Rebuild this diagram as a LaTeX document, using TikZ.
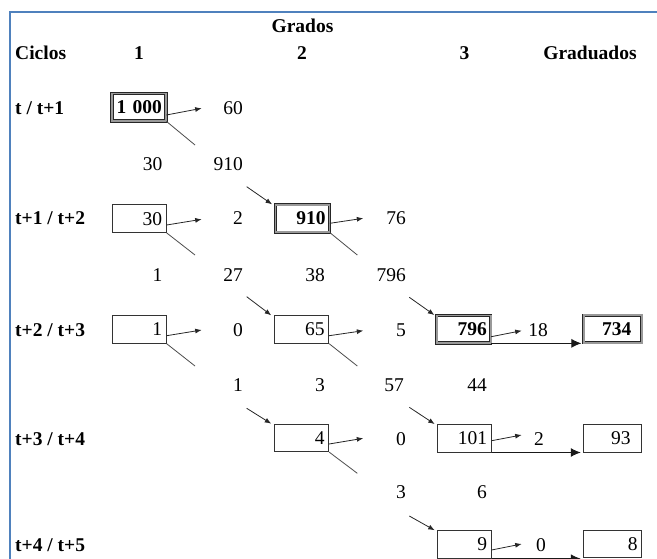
\documentclass[tikz,border=0pt]{standalone}
\usepackage{fontspec}
\setmainfont{Liberation Serif}
\usetikzlibrary{arrows.meta}
\definecolor{frameblue}{HTML}{4F81BD}
\begin{document}
\begin{tikzpicture}[x=1pt,y=-1pt,
  every node/.style={font=\fontsize{19.5}{22}\selectfont, inner sep=0pt},
  bfnode/.style={font=\fontsize{19.5}{22}\selectfont\bfseries},
  num/.style={anchor=base east},
  ctr/.style={anchor=base},
  hdr/.style={bfnode, anchor=base},
  rowlbl/.style={bfnode, anchor=base west},
  cell/.style={draw=black!80, line width=0.9pt, minimum height=27.5pt, text width=46pt, align=right, inner xsep=4pt, inner ysep=0pt},
  dcell/.style={cell, draw=black!85, line width=0.8pt, double=black!40, double distance=1.6pt, font=\fontsize{19.5}{22}\selectfont\bfseries},
  gcell/.style={text width=37pt, inner xsep=10.5pt},
  smallarrow/.style={-{Latex[length=6.5pt,width=5pt]}, line width=0.8pt, draw=black!85},
  bigarrow/.style={-{Latex[length=10pt,width=9pt]}, line width=0.9pt, draw=black!90},
  diagline/.style={line width=0.8pt, draw=black!70},
]
\useasboundingbox (0,0) rectangle (657,559);
% frame
\draw[frameblue, line width=1.5pt] (657,12) -- (10,12) -- (10,560);

% headers
\node[hdr] (grados) at (302.5,33) {Grados};
\node[bfnode, anchor=base west] (ciclos) at (15,60) {Ciclos};
\node[hdr] (g1) at (139,60) {1};
\node[hdr] (g2) at (302,60) {2};
\node[hdr] (g3) at (464.5,60) {3};
\node[hdr] (grad) at (590,60) {Graduados};

% row labels
\node[rowlbl] (r1) at (15,115) {t / t+1};
\node[rowlbl] (r2) at (15,225) {t+1 / t+2};
\node[rowlbl] (r3) at (15,336.7) {t+2 / t+3};
\node[rowlbl] (r4) at (15,445) {t+3 / t+4};
\node[rowlbl] (r5) at (15,551.7) {t+4 / t+5};

% boxes
\node[dcell] (b1000) at (139,107.2) {1~000};
\node[cell] (b30) at (139.2,218.7) {30};
\node[dcell] (b910) at (302.5,218.5) {910};
\node[cell] (b1) at (139.2,329.5) {1};
\node[cell] (b65) at (301.7,329.5) {65};
\node[dcell] (b796) at (463.8,329.2) {796};
\node[dcell, gcell] (b734) at (612.8,329) {734};
\node[cell] (b4) at (301.7,437.9) {4};
\node[cell] (b101) at (464.2,438.3) {101};
\node[cell, gcell] (b93) at (612.2,438.3) {93};
\node[cell] (b9) at (464.2,544.5) {9};
\node[cell, text width=51pt, inner xsep=3.5pt] (b8) at (612.2,543.8) {8};

% numbers
\node[num] (n60) at (243,115) {60};
\node[num] (n30) at (162.5,170.7) {30};
\node[num] (n910) at (243,170.7) {910};
\node[num] (n2a) at (243,225) {2};
\node[num] (n76) at (406,225) {76};
\node[num] (n1a) at (162.5,281.7) {1};
\node[num] (n27) at (243,281.7) {27};
\node[num] (n38) at (325,281.7) {38};
\node[num] (n796) at (406,281.7) {796};
\node[num] (n0a) at (243,336.7) {0};
\node[num] (n5) at (406,336.7) {5};
\node[ctr] (n18) at (538,336.7) {18};
\node[num] (n1b) at (243,391.7) {1};
\node[num] (n3a) at (325,391.7) {3};
\node[num] (n57) at (404,391.7) {57};
\node[num] (n44) at (487,391.7) {44};
\node[num] (n0b) at (406,445) {0};
\node[ctr] (n2b) at (539,445) {2};
\node[num] (n3b) at (406,498) {3};
\node[num] (n6) at (487,498) {6};
\node[ctr] (n0c) at (541,551.7) {0};

% free ends
\coordinate (e1) at (201.7,108.3);
\coordinate (e2) at (201.7,219.3);
\coordinate (e3) at (363.3,218.3);
\coordinate (e4) at (201.7,330);
\coordinate (e5) at (363.3,330.7);
\coordinate (e6) at (521.7,330.7);
\coordinate (e7) at (363.3,438.3);
\coordinate (e8) at (521.7,435);
\coordinate (e9) at (521.7,544);

\coordinate (d1) at (195,145);
\coordinate (d2) at (195,255);
\coordinate (d3) at (357.3,255);
\coordinate (d4) at (195,366);
\coordinate (d5) at (357.3,366);
\coordinate (d6) at (357.3,473.3);

\coordinate (s1) at (246.7,186.7);
\coordinate (s2) at (246.7,296.7);
\coordinate (s3) at (409.3,297.3);
\coordinate (s4) at (246.7,408.3);
\coordinate (s5) at (409.3,407.3);
\coordinate (s6) at (409.3,516);

% row arrows
\draw[smallarrow] ([yshift=-7.8pt]b1000.east) -- (e1);
\draw[smallarrow] ([yshift=-6.3pt]b30.east) -- (e2);
\draw[smallarrow] ([yshift=-4.8pt]b910.east) -- (e3);
\draw[smallarrow] ([yshift=-6.2pt]b1.east) -- (e4);
\draw[smallarrow] ([yshift=-6.2pt]b65.east) -- (e5);
\draw[smallarrow] ([yshift=-7.5pt]b796.east) -- (e6);
\draw[smallarrow] ([yshift=-6.1pt]b4.east) -- (e7);
\draw[smallarrow] ([yshift=-2.4pt]b101.east) -- (e8);
\draw[smallarrow] ([yshift=-5.5pt]b9.east) -- (e9);

% diagonal lines
\draw[diagline] (b1000.south east) -- (d1);
\draw[diagline] (b30.south east) -- (d2);
\draw[diagline] (b910.south east) -- (d3);
\draw[diagline] (b1.south east) -- (d4);
\draw[diagline] (b65.south east) -- (d5);
\draw[diagline] (b4.south east) -- (d6);

% incoming arrows
\draw[smallarrow] (s1) -- ([xshift=-3pt]b910.north west);
\draw[smallarrow] (s2) -- ([xshift=-3pt]b65.north west);
\draw[smallarrow] (s3) -- ([xshift=-2pt]b796.north west);
\draw[smallarrow] (s4) -- ([xshift=-3pt]b4.north west);
\draw[smallarrow] (s5) -- ([xshift=-2pt]b101.north west);
\draw[smallarrow] (s6) -- ([xshift=-2pt]b9.north west);

% graduate arrows
\draw[bigarrow, shorten >=2pt] (b796.south east) -- (b796.south east -| b734.west);
\draw[bigarrow, shorten >=2pt] (b101.south east) -- (b101.south east -| b93.west);
\draw[bigarrow, shorten >=2pt] (b9.south east) -- (b9.south east -| b8.west);
\end{tikzpicture}
\end{document}
